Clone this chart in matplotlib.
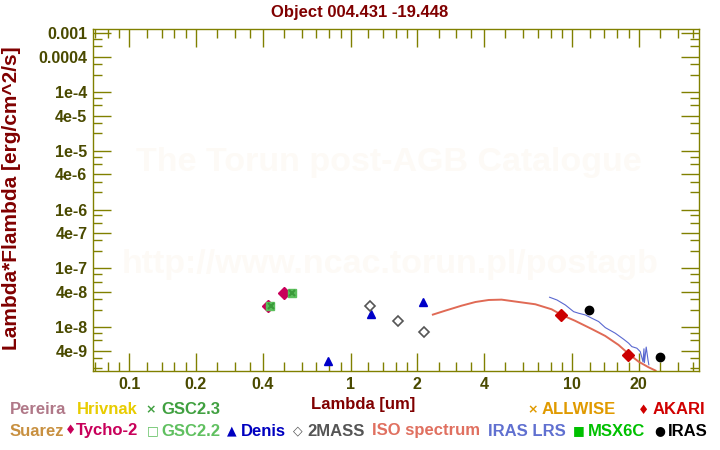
import numpy as np
import matplotlib
matplotlib.use('Agg')
import matplotlib.pyplot as plt
from matplotlib.ticker import FixedLocator, NullFormatter

plt.rcParams['font.family'] = ['Liberation Sans', 'DejaVu Sans']
plt.rcParams['font.weight'] = 'bold'

# photometry (wavelength um, lambda*F_lambda erg/cm^2/s)
tycho_x = [0.422, 0.498]
tycho_y = [2.30e-8, 3.84e-8]
gsc22_x = [0.431, 0.542]
gsc22_y = [2.30e-8, 3.84e-8]
gsc23_x = [0.436, 0.545]
gsc23_y = [2.30e-8, 3.84e-8]
denis_x = [0.79, 1.23, 2.11]
denis_y = [2.67e-9, 1.68e-8, 2.66e-8]
tmass_x = [1.22, 1.63, 2.14]
tmass_y = [2.30e-8, 1.28e-8, 8.3e-9]
akari_x = [8.87, 17.9]
akari_y = [1.62e-8, 3.34e-9]
iras_x = [11.9, 24.9]
iras_y = [1.95e-8, 3.09e-9]

# ISO spectrum
iso_x = [2.35, 2.68, 3.17, 3.66, 4.20, 4.80, 5.73, 6.82, 8.08, 8.97, 10.3,
         12.25, 14.1, 16.2, 18.0, 19.95, 22.1, 23.8]
iso_y = [1.64e-8, 1.92e-8, 2.33e-8, 2.69e-8, 2.91e-8, 2.95e-8, 2.69e-8,
         2.46e-8, 2.02e-8, 1.62e-8, 1.29e-8, 9.35e-9, 7.12e-9, 5.0e-9,
         3.52e-9, 2.60e-9, 2.09e-9, 1.83e-9]

# IRAS LRS
lrs_x = [7.91, 8.54, 9.32, 10.16, 10.7, 11.47, 12.29, 13.17, 14.12, 15.67,
         17.08, 18.0, 18.6, 19.6, 20.3, 20.9, 21.1, 21.2, 21.6, 22.0, 22.2]
lrs_y = [3.24e-8, 2.91e-8, 2.39e-8, 1.84e-8, 1.73e-8, 1.62e-8, 1.42e-8,
         1.25e-8, 9.85e-9, 7.9e-9, 6.25e-9, 5.35e-9, 4.68e-9, 4.4e-9,
         3.85e-9, 2.57e-9, 4.3e-9, 2.5e-9, 4.6e-9, 2.8e-9, 2.3e-9]

x_major = [0.1, 0.2, 0.4, 1, 2, 4, 10, 20]
x_labels = ['0.1', '0.2', '0.4', '1', '2', '4', '10', '20']
y_major = [1e-3, 4e-4, 1e-4, 4e-5, 1e-5, 4e-6, 1e-6, 4e-7, 1e-7, 4e-8, 1e-8, 4e-9]
y_labels = ['0.001', '0.0004', '1e-4', '4e-5', '1e-5', '4e-6', '1e-6', '4e-7',
            '1e-7', '4e-8', '1e-8', '4e-9']

olive = '#808000'
lab_col = '#4a4a00'
maroon = '#800000'

fig = plt.figure(figsize=(7.2, 4.5), dpi=100)
ax = fig.add_axes([93 / 720, 1 - 371 / 450, 606 / 720, 342 / 450])
ax.set_xscale('log')
ax.set_yscale('log')
ax.set_xlim(0.0686, 37.4)
ax.set_ylim(1.80e-9, 1.19e-3)

# watermark
ax.text(0.489, 1 - (163 - 29) / 342, 'The Torun post-AGB Catalogue', transform=ax.transAxes,
        ha='center', va='center', fontsize=24.5, color='#fdfaf6', zorder=0)
ax.text(0.491, 1 - (264 - 29) / 342, 'http://www.ncac.torun.pl/postagb', transform=ax.transAxes,
        ha='center', va='center', fontsize=24.5, color='#fdfaf6', zorder=0)

ax.plot(iso_x, iso_y, '-', color='#e06a55', lw=1.4, zorder=2)
ax.plot(lrs_x, lrs_y, '-', color='#5a68d0', lw=0.8, zorder=2)
ax.plot(tycho_x, tycho_y, 'D', color='#c8005a', ms=6, ls='none', zorder=3)
ax.plot(gsc22_x, gsc22_y, 's', color='#5cbf5c', ms=6, ls='none', zorder=4)
ax.plot(gsc23_x, gsc23_y, 'x', color='#3a9a3a', ms=5, mew=1.5, ls='none', zorder=5)
ax.plot(denis_x, denis_y, '^', color='#0000c8', ms=6, ls='none', zorder=3)
ax.plot(tmass_x, tmass_y, 'D', mfc='none', mec='#555555', mew=1.2, ms=5.5, ls='none', zorder=3)
ax.plot(akari_x, akari_y, 'D', color='#cc0000', ms=6.5, ls='none', zorder=4)
ax.plot(iras_x, iras_y, 'o', color='black', ms=6, ls='none', zorder=4)

# ticks
xminor = []
for d in [0.01, 0.1, 1, 10]:
    for m in [1.2, 1.4, 1.6, 1.8, 2.5, 3, 3.5, 5, 6, 7, 8, 9]:
        xminor.append(m * d)
yminor = []
for e in range(-10, -2):
    for m in [2, 3, 6, 8]:
        yminor.append(m * 10.0 ** e)
ax.xaxis.set_major_locator(FixedLocator(x_major))
ax.xaxis.set_minor_locator(FixedLocator(xminor))
ax.yaxis.set_major_locator(FixedLocator(y_major))
ax.yaxis.set_minor_locator(FixedLocator(yminor))
ax.set_xticklabels(x_labels)
ax.set_yticklabels(y_labels)
ax.xaxis.set_minor_formatter(NullFormatter())
ax.yaxis.set_minor_formatter(NullFormatter())
ax.tick_params(which='both', direction='in', top=True, right=True, color=olive,
               labelcolor=lab_col, labelsize=11.5, width=1.0)
ax.tick_params(which='major', length=13, pad=4)
ax.tick_params(which='minor', length=6.5)
for sp in ax.spines.values():
    sp.set_color(olive)
    sp.set_linewidth(1.0)

# titles
fig.text(0.5, 1 - 12 / 450, 'Object 004.431 -19.448', ha='center', va='center',
         fontsize=12, color=maroon)
fig.text(363 / 720, 1 - 405 / 450, 'Lambda [um]', ha='center', va='center',
         fontsize=12, color=maroon)
fig.text(12 / 720, 1 - 198 / 450, 'Lambda*Flambda [erg/cm^2/s]', ha='center',
         va='center', rotation=90, fontsize=15, color=maroon)

# legend, as coloured text: (marker centre px, marker, text left px, text, colour)
row1 = [(None, '', 10, 'Pereira', '#b07888'),
        (None, '', 77, 'Hrivnak', '#e8cc00'),
        (151, '×', 161, 'GSC2.3', '#40a040'),
        (533, '×', 542, 'ALLWISE', '#e09a00'),
        (644, '♦', 653, 'AKARI', '#d00000')]
row2 = [(None, '', 10, 'Suarez', '#c89040'),
        (71, '♦', 76, 'Tycho-2', '#c8005a'),
        (153, '□', 161, 'GSC2.2', '#60c060'),
        (232, '▲', 241, 'Denis', '#0000c0'),
        (298, '◇', 307, '2MASS', '#555555'),
        (None, '', 372, 'ISO spectrum', '#e07060'),
        (None, '', 488, 'IRAS LRS', '#6070d0'),
        (579, '■', 588, 'MSX6C', '#00c000'),
        (660, '●', 668, 'IRAS', 'black')]
for y, row in [(410, row1), (431, row2)]:
    for mx, mk, tx, txt, col in row:
        if mx is not None:
            fig.text(mx / 720, 1 - y / 450, mk, ha='center', va='center', fontsize=9,
                     color=col, family=['DejaVu Sans'])
        fig.text(tx / 720, 1 - y / 450, txt, ha='left', va='center', fontsize=12, color=col)

fig.savefig('out.png', dpi=100)
